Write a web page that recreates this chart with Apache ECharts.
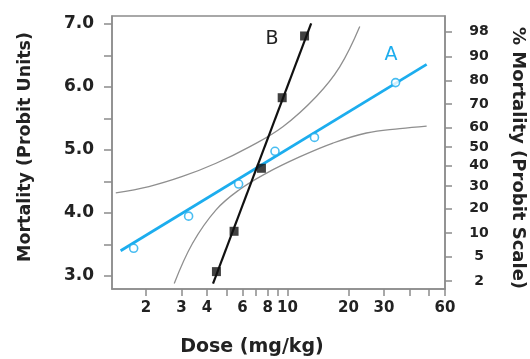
<!DOCTYPE html>
<html><head><meta charset="utf-8">
<script src="https://cdn.jsdelivr.net/npm/echarts@6/dist/echarts.min.js"></script>
<style>html,body{margin:0;padding:0;background:#fff}#c{width:530px;height:359px}</style>
</head><body><div id="c"></div>
<script>
// ---- data ----
const doseA   = [1.74, 3.25, 5.74, 8.68, 13.6, 34.2];
const probitA = [3.44, 3.95, 4.46, 4.98, 5.20, 6.07];
const fitDoseA   = [1.50, 48.7];
const fitProbitA = [3.40, 6.36];

const doseB   = [4.46, 5.45, 7.44, 9.42, 12.15];
const probitB = [3.07, 3.71, 4.71, 5.83, 6.81];
const fitDoseB   = [4.29, 13.1];
const fitProbitB = [2.88, 7.01];

const upperDose   = [1.42, 2.07, 3.03, 4.44, 6.49, 9.49, 13.89, 18.12, 22.76];
const upperProbit = [4.32, 4.42, 4.58, 4.79, 5.05, 5.37, 5.85, 6.32, 6.96];
const lowerDose   = [2.76, 3.40, 4.44, 5.79, 7.85, 11.48, 16.78, 24.57, 35.92, 48.70];
const lowerProbit = [2.88, 3.52, 4.05, 4.37, 4.63, 4.89, 5.11, 5.27, 5.34, 5.38];

// ---- tick labels ----
const xTickValues  = [2, 3, 4, 5, 6, 7, 8, 9, 10, 20, 30, 40, 50, 60];
const xLabelValues = [2, 3, 4, 6, 8, 10, 20, 30, 60];
const yTickValues  = [3, 3.5, 4, 4.5, 5, 5.5, 6, 6.5, 7];
const yLabelValues = [3, 4, 5, 6, 7];
const pctLabels    = [2, 5, 10, 20, 30, 40, 50, 60, 70, 80, 90, 98];
const pctPositions = [2.92, 3.31, 3.68, 4.07, 4.43, 4.75, 5.05, 5.36, 5.73, 6.10, 6.48, 6.88];

const zip = (xs, ys) => xs.map((x, i) => [x, ys[i]]);

const BLUE = '#1cadee';
const AX = '#8c8c8c';
const FONT = 'DejaVu Sans';
const yMin = 2.794, yMax = 7.127;

const chart = echarts.init(document.getElementById('c'), null, {renderer: 'canvas'});
chart.setOption({
  animation: false,
  backgroundColor: '#fff',
  grid: {left: 112, right: 85, top: 16, bottom: 70, show: true, borderColor: AX, borderWidth: 1.5},
  xAxis: {
    type: 'log', logBase: 10, min: 1.36, max: 60,
    axisLine: {show: true, lineStyle: {color: AX, width: 1.5}},
    axisTick: {show: true, length: 7, customValues: xTickValues, lineStyle: {color: AX, width: 1.5}},
    minorTick: {show: false},
    axisLabel: {customValues: xLabelValues, margin: 12, fontFamily: FONT, fontWeight: 'bold', fontSize: 15, color: '#222',
      formatter: v => String(Math.round(v * 100) / 100)},
    splitLine: {show: false}
  },
  yAxis: [{
    type: 'value', position: 'left', min: yMin, max: yMax,
    axisLine: {show: true, lineStyle: {color: AX, width: 1.5}},
    axisTick: {show: true, length: 8, customValues: yTickValues, lineStyle: {color: AX, width: 1.5}},
    axisLabel: {customValues: yLabelValues, margin: 18, fontFamily: FONT, fontWeight: 'bold', fontSize: 17, color: '#222',
      formatter: v => v.toFixed(1)},
    splitLine: {show: false}
  }, {
    type: 'value', position: 'right', min: yMin, max: yMax,
    axisLine: {show: true, lineStyle: {color: AX, width: 1.5}},
    axisTick: {show: true, length: 7, customValues: pctPositions, lineStyle: {color: AX, width: 1.5}},
    axisLabel: {customValues: pctPositions, margin: 34, align: 'center', fontFamily: FONT, fontWeight: 'bold', fontSize: 14, color: '#222',
      formatter: v => {
        let best = 0;
        pctPositions.forEach((p, i) => { if (Math.abs(p - v) < Math.abs(pctPositions[best] - v)) best = i; });
        return String(pctLabels[best]);
      }},
    splitLine: {show: false}
  }],
  series: [
    {type: 'line', data: zip(upperDose, upperProbit), smooth: 0.4, symbol: 'none',
      lineStyle: {color: '#8f8f8f', width: 1.3}, silent: true, z: 1},
    {type: 'line', data: zip(lowerDose, lowerProbit), smooth: 0.4, symbol: 'none',
      lineStyle: {color: '#8f8f8f', width: 1.3}, silent: true, z: 1},
    {type: 'line', data: zip(fitDoseA, fitProbitA), symbol: 'none',
      lineStyle: {color: BLUE, width: 2.8}, z: 2},
    {type: 'scatter', data: zip(doseA, probitA), symbol: 'circle', symbolSize: 8,
      itemStyle: {color: '#fff', borderColor: BLUE, borderWidth: 1.6}, z: 3},
    {type: 'line', data: zip(fitDoseB, fitProbitB), symbol: 'none',
      lineStyle: {color: '#111', width: 2.2}, z: 4},
    {type: 'scatter', data: zip(doseB, probitB), symbol: 'rect', symbolSize: 9,
      itemStyle: {color: '#111'}, z: 5}
  ],
  graphic: [
    {type: 'text', x: 25, y: 147, rotation: Math.PI / 2,
      style: {text: 'Mortality (Probit Units)', font: 'bold 17.5px "DejaVu Sans"', fill: '#222', textAlign: 'center', textVerticalAlign: 'middle'}},
    {type: 'text', x: 518, y: 158, rotation: -Math.PI / 2,
      style: {text: '% Mortality (Probit Scale)', font: 'bold 18px "DejaVu Sans"', fill: '#222', textAlign: 'center', textVerticalAlign: 'middle'}},
    {type: 'text', x: 252, y: 347,
      style: {text: 'Dose (mg/kg)', font: 'bold 19px "DejaVu Sans"', fill: '#222', textAlign: 'center', textVerticalAlign: 'middle'}},
    {type: 'text', x: 391, y: 55,
      style: {text: 'A', font: '19px "DejaVu Sans"', fill: BLUE, textAlign: 'center', textVerticalAlign: 'middle'}},
    {type: 'text', x: 272, y: 39,
      style: {text: 'B', font: '19px "DejaVu Sans"', fill: '#222', textAlign: 'center', textVerticalAlign: 'middle'}}
  ]
});
</script></body></html>
